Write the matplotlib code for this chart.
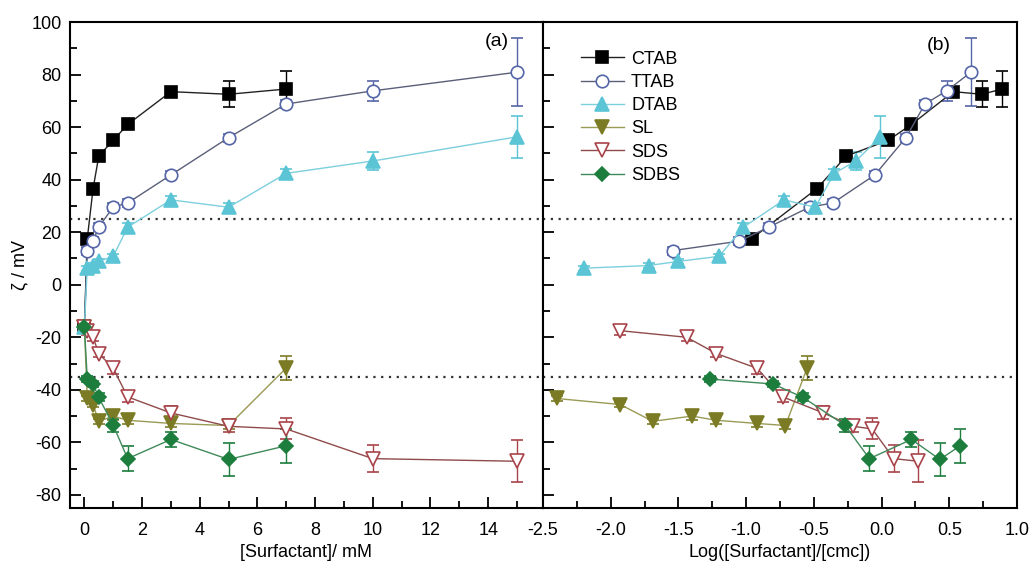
import matplotlib
matplotlib.use("Agg")
import matplotlib.pyplot as plt
from matplotlib.lines import Line2D
from matplotlib.ticker import MultipleLocator

plt.rcParams['font.family'] = ['Liberation Sans Narrow', 'Liberation Sans', 'DejaVu Sans']
plt.rcParams['font.size'] = 13
plt.rcParams['axes.unicode_minus'] = False

# concentration in mM (left panel), first point = bare particle
conc_ctab = [0, 0.1, 0.3, 0.5, 1, 1.5, 3, 5, 7]
conc_ttab = [0, 0.1, 0.3, 0.5, 1, 1.5, 3, 5, 7, 10, 15]
conc_dtab = [0, 0.1, 0.3, 0.5, 1, 1.5, 3, 5, 7, 10, 15]
conc_sl = [0, 0.1, 0.3, 0.5, 1, 1.5, 3, 5, 7]
conc_sds = [0, 0.1, 0.3, 0.5, 1, 1.5, 3, 5, 7, 10, 15]
conc_sdbs = [0, 0.1, 0.3, 0.5, 1, 1.5, 3, 5, 7]

# zeta potential, mV
zeta_ctab = [-16, 17.5, 36.5, 49, 55, 61, 73.5, 72.5, 74.5]
zeta_ttab = [-16, 13, 16.6, 22, 29.6, 31.1, 41.8, 56, 68.8, 73.8, 80.9]
zeta_dtab = [-16, 6.3, 7.3, 8.9, 10.8, 21.9, 32.3, 29.5, 42.4, 47.1, 56.3]
zeta_sl = [-16, -43.3, -45.6, -52, -50, -51.6, -52.8, -53.6, -31.7]
zeta_sds = [-16, -17.5, -20, -26.2, -31.8, -42.7, -48.8, -53.9, -54.9, -66.2, -67.2]
zeta_sdbs = [-16, -35.9, -37.8, -42.9, -53.5, -66.2, -58.9, -66.5, -61.3]

err_ctab = [1, 1, 1, 1.5, 1.5, 1.5, 1.5, 5, 7]
err_ttab = [1, 1.5, 1.5, 1.5, 1.5, 1.5, 1.5, 1.5, 1.5, 3.8, 13]
err_dtab = [1, 1, 1, 1, 1, 1.5, 1.5, 1.5, 1.5, 3.6, 8]
err_sl = [1, 1, 1, 1, 1.5, 1.5, 1.5, 1.5, 4.6]
err_sds = [1, 1.5, 1.5, 1.5, 2, 2, 2.5, 2, 4, 5, 8]
err_sdbs = [1, 1, 1, 1.5, 2.5, 4.7, 3, 6.3, 6.5]

# log([surfactant]/[cmc]) (right panel), no bare-particle point
log_ctab = [-0.96, -0.48, -0.26, 0.05, 0.22, 0.53, 0.74, 0.89]
log_ttab = [-1.54, -1.05, -0.83, -0.53, -0.36, -0.05, 0.18, 0.32, 0.48, 0.66]
log_dtab = [-2.2, -1.72, -1.5, -1.2, -1.02, -0.72, -0.49, -0.35, -0.19, -0.01]
log_sl = [-2.4, -1.93, -1.69, -1.4, -1.22, -0.92, -0.71, -0.55]
log_sds = [-1.93, -1.44, -1.22, -0.92, -0.73, -0.43, -0.21, -0.07, 0.09, 0.27]
log_sdbs = [-1.27, -0.8, -0.58, -0.27, -0.09, 0.22, 0.43, 0.58]

styles = {
    "CTAB": dict(marker='s', mfc='black', mec='black', color='black', line='#222222', ms=8.5),
    "TTAB": dict(marker='o', mfc='white', mec='#5566a8', color='#5566a8', line='#5a5f7a', ms=9),
    "DTAB": dict(marker='^', mfc='#5cc5d5', mec='#5cc5d5', color='#5cc5d5', line='#7ccfdc', ms=9.5),
    "SL": dict(marker='v', mfc='#7b7b25', mec='#7b7b25', color='#7b7b25', line='#9a9a55', ms=9.5),
    "SDS": dict(marker='v', mfc='white', mec='#a8434a', color='#a8434a', line='#8f4a4a', ms=9.5),
    "SDBS": dict(marker='D', mfc='#1d7d3d', mec='#1d7d3d', color='#1d7d3d', line='#3f8a5a', ms=7.5),
}

left_data = [("CTAB", conc_ctab, zeta_ctab, err_ctab),
             ("TTAB", conc_ttab, zeta_ttab, err_ttab),
             ("DTAB", conc_dtab, zeta_dtab, err_dtab),
             ("SL", conc_sl, zeta_sl, err_sl),
             ("SDS", conc_sds, zeta_sds, err_sds),
             ("SDBS", conc_sdbs, zeta_sdbs, err_sdbs)]
right_data = [("CTAB", log_ctab, zeta_ctab[1:], err_ctab[1:]),
              ("TTAB", log_ttab, zeta_ttab[1:], err_ttab[1:]),
              ("DTAB", log_dtab, zeta_dtab[1:], err_dtab[1:]),
              ("SL", log_sl, zeta_sl[1:], err_sl[1:]),
              ("SDS", log_sds, zeta_sds[1:], err_sds[1:]),
              ("SDBS", log_sdbs, zeta_sdbs[1:], err_sdbs[1:])]

fig = plt.figure(figsize=(10.32, 5.68), dpi=100)
ax1 = fig.add_axes([0.0678, 0.1056, 0.4583, 0.8556])
ax2 = fig.add_axes([0.5262, 0.1056, 0.4593, 0.8556])


def draw(ax, data):
    for name, x, y, e in data:
        s = styles[name]
        ax.errorbar(x, y, yerr=e, color=s['line'], ecolor=s['color'], lw=1, elinewidth=1,
                    capsize=4, capthick=1, marker=s['marker'], ms=s['ms'], mfc=s['mfc'],
                    mec=s['mec'], mew=1.2)


draw(ax1, left_data)
draw(ax2, right_data)

for ax in (ax1, ax2):
    ax.set_ylim(-85, 100)
    ax.axhline(25, color='#333333', ls=(0, (1, 2.5)), lw=1.6)
    ax.axhline(-35, color='#333333', ls=(0, (1, 2.5)), lw=1.6)
    ax.yaxis.set_major_locator(MultipleLocator(20))
    ax.yaxis.set_minor_locator(MultipleLocator(10))
    ax.tick_params(which='both', direction='in', top=False, right=False, width=1.3)
    ax.tick_params(which='major', length=8)
    ax.tick_params(which='minor', length=5)
    ax.tick_params(axis='x', pad=10)
    ax.tick_params(axis='y', pad=6)
    for sp in ax.spines.values():
        sp.set_linewidth(1.5)

ax1.set_xlim(-0.5, 15.9)
ax1.xaxis.set_major_locator(MultipleLocator(2))
ax1.xaxis.set_minor_locator(MultipleLocator(1))
ax1.set_xlabel("[Surfactant]/ mM", labelpad=4)
ax1.set_ylabel("ζ / mV", labelpad=2)
ax1.text(14.3, 92.5, "(a)", ha='center', va='center', fontsize=14)

ax2.set_xlim(-2.5, 1.0)
ax2.xaxis.set_major_locator(MultipleLocator(0.5))
ax2.xaxis.set_minor_locator(MultipleLocator(0.25))
ax2.xaxis.set_major_formatter(plt.FormatStrFormatter('%.1f'))
ax2.tick_params(axis='y', labelleft=False)
ax2.set_xlabel("Log([Surfactant]/[cmc])", labelpad=4)
ax2.text(0.42, 91, "(b)", ha='center', va='center', fontsize=14)

handles = [Line2D([], [], color=styles[n]['line'], lw=1, marker=styles[n]['marker'],
                  ms=styles[n]['ms'], mfc=styles[n]['mfc'], mec=styles[n]['mec'], mew=1.2)
           for n in styles]
ax2.legend(handles, list(styles), loc='upper left', bbox_to_anchor=(0.06, 0.96), frameon=False,
           borderpad=0, handlelength=2.4, handletextpad=0.4, labelspacing=0.35, fontsize=13)

fig.savefig("out.png", dpi=100)
